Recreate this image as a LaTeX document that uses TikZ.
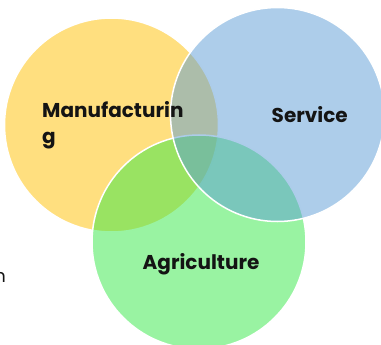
\documentclass[tikz,border=0pt]{standalone}
\usepackage{fontspec}
\setmainfont{Poppins}
\definecolor{ygold}{RGB}{255,192,0}
\definecolor{sblue}{RGB}{91,155,213}
\definecolor{agreen}{RGB}{52,232,70}
\definecolor{ink}{RGB}{20,20,20}
\begin{document}
\begin{tikzpicture}[x=1pt,y=-1pt,
  venn/.style={circle, minimum size=214pt, inner sep=0pt, fill opacity=0.5, draw=white, draw opacity=1, line width=1.5pt},
  lbl/.style={font=\fontsize{20}{27}\selectfont\bfseries, text=ink, inner sep=0pt, align=left}]
\useasboundingbox (0,0) rectangle (381,345);
\node[venn, fill=ygold] (m) at (111.5,125) {};
\node[venn, fill=agreen] (a) at (199,242) {};
\node[venn, fill=sblue] (s) at (277.5,114.5) {};
\node[lbl, anchor=base west] (mt) at (42,144) {Manufacturin\\g};
\node[lbl, anchor=base west] (st) at (271.5,122.5) {Service};
\node[lbl, anchor=base west] (at) at (142.5,269.3) {Agriculture};
\node[font=\fontsize{18}{22}\selectfont, text=ink, inner sep=0pt, anchor=base east] (nt) at (6,282) {n};
\end{tikzpicture}
\end{document}
